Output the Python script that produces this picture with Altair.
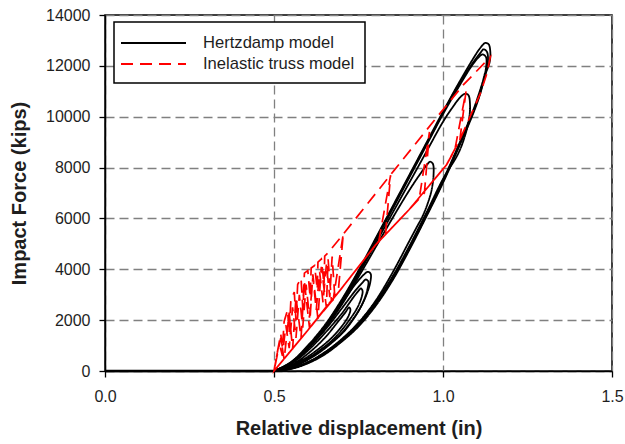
import altair as alt
import pandas as pd

SERIES = ["Hertzdamp model", "Inelastic truss model"]

# ---- Hertzdamp model (black) ----
hz_zero_x = [0.0, 0.5]
hz_zero_y = [0, 0]

hz_a1_x = [0.50, 0.55, 0.60, 0.65, 0.70, 0.75, 0.80, 0.85, 0.90, 0.95, 1.00, 1.05, 1.09, 1.11, 1.125, 1.135, 1.14,
           1.138, 1.125, 1.11, 1.09, 1.05, 1.00, 0.95, 0.90, 0.85, 0.80, 0.75, 0.70, 0.65, 0.60, 0.55, 0.50]
hz_a1_y = [0, 350, 1000, 1800, 2800, 3950, 5200, 6450, 7700, 8950, 10200, 11400, 12300, 12700, 12900, 12850, 12550,
           12150, 11650, 10900, 10150, 8900, 7400, 6050, 4750, 3550, 2550, 1750, 1150, 650, 300, 80, 0]

hz_a2_x = [0.50, 0.55, 0.60, 0.65, 0.70, 0.75, 0.80, 0.85, 0.90, 0.95, 1.00, 1.05, 1.09, 1.11, 1.12, 1.13, 1.133,
           1.125, 1.11, 1.09, 1.05, 1.00, 0.95, 0.90, 0.85, 0.80, 0.75, 0.70, 0.65, 0.60, 0.55, 0.50]
hz_a2_y = [0, 330, 950, 1750, 2750, 3900, 5150, 6400, 7650, 8900, 10150, 11350, 12150, 12500, 12650, 12550, 12200,
           11650, 10950, 10200, 8950, 7450, 6100, 4800, 3600, 2600, 1800, 1180, 680, 320, 90, 0]

hz_a3_x = [0.50, 0.55, 0.60, 0.65, 0.70, 0.75, 0.80, 0.85, 0.90, 0.95, 1.00, 1.05, 1.085, 1.105, 1.117, 1.127, 1.128,
           1.12, 1.105, 1.085, 1.05, 1.00, 0.95, 0.90, 0.85, 0.80, 0.75, 0.70, 0.65, 0.60, 0.55, 0.50]
hz_a3_y = [0, 320, 930, 1720, 2700, 3850, 5100, 6350, 7600, 8850, 10100, 11250, 12000, 12330, 12450, 12350, 12000,
           11500, 10850, 10100, 9000, 7500, 6150, 4850, 3650, 2650, 1850, 1200, 700, 330, 100, 0]

hz_b_x = [0.50, 0.55, 0.60, 0.65, 0.70, 0.75, 0.80, 0.85, 0.90, 0.95, 1.00, 1.03, 1.05, 1.065, 1.075, 1.08, 1.077,
          1.065, 1.045, 1.00, 0.95, 0.90, 0.85, 0.80, 0.75, 0.70, 0.65, 0.60, 0.55, 0.50]
hz_b_y = [0, 300, 900, 1700, 2650, 3800, 5000, 6200, 7400, 8600, 9800, 10400, 10750, 10900, 10850, 10450, 9900,
          9250, 8550, 7550, 6200, 4900, 3700, 2700, 1880, 1230, 720, 340, 100, 0]

hz_c_x = [0.50, 0.55, 0.60, 0.65, 0.70, 0.75, 0.80, 0.85, 0.90, 0.93, 0.952, 0.962, 0.970, 0.972, 0.966, 0.955, 0.94,
          0.92, 0.90, 0.85, 0.80, 0.75, 0.70, 0.65, 0.60, 0.55, 0.50]
hz_c_y = [0, 300, 880, 1650, 2600, 3700, 4850, 6000, 7100, 7700, 8100, 8230, 8150, 7700, 7100, 6600, 6100,
          5600, 5100, 3850, 2750, 1900, 1250, 740, 350, 110, 0]

hz_d1_x = [0.50, 0.55, 0.60, 0.65, 0.70, 0.74, 0.765, 0.778, 0.786, 0.785, 0.775, 0.76, 0.74, 0.71, 0.67, 0.62, 0.56, 0.50]
hz_d1_y = [0, 330, 950, 1700, 2650, 3400, 3780, 3900, 3820, 3500, 3050, 2600, 2150, 1600, 1100, 600, 180, 0]

hz_d2_x = [0.50, 0.55, 0.60, 0.65, 0.70, 0.74, 0.762, 0.772, 0.779, 0.777, 0.765, 0.745, 0.72, 0.69, 0.65, 0.60, 0.55, 0.50]
hz_d2_y = [0, 300, 880, 1600, 2450, 3150, 3480, 3600, 3520, 3250, 2750, 2250, 1800, 1350, 950, 500, 170, 0]

hz_d3_x = [0.50, 0.55, 0.60, 0.65, 0.70, 0.735, 0.75, 0.757, 0.762, 0.758, 0.745, 0.72, 0.69, 0.65, 0.60, 0.55, 0.50]
hz_d3_y = [0, 270, 800, 1480, 2250, 2900, 3150, 3250, 3150, 2850, 2450, 1950, 1450, 950, 480, 160, 0]

hz_d4_x = [0.50, 0.55, 0.60, 0.65, 0.69, 0.712, 0.722, 0.726, 0.72, 0.70, 0.67, 0.63, 0.58, 0.53, 0.50]
hz_d4_y = [0, 230, 680, 1300, 1950, 2320, 2500, 2420, 2150, 1750, 1300, 850, 400, 90, 0]

# ---- Inelastic truss model (red, one continuous dashed path) ----
red_x = [0.50, 0.51, 0.52, 0.525, 0.53, 0.54, 0.545, 0.55, 0.56, 0.565, 0.57, 0.58, 0.585, 0.59, 0.60, 0.607, 0.61,
         0.62, 0.628, 0.63, 0.64, 0.648, 0.65, 0.66,
         0.70, 0.733, 0.856, 0.98, 1.06, 1.14,
         1.13, 1.11, 1.08, 1.05, 1.01, 0.95, 0.90, 0.85, 0.80, 0.75, 0.70, 0.65, 0.60, 0.55, 0.50,
         0.55, 0.60, 0.65, 0.675, 0.705, 0.69, 0.65, 0.60, 0.55, 0.50,
         0.60, 0.70, 0.80, 0.81, 0.845, 0.83, 0.80, 0.70, 0.60, 0.50,
         0.60, 0.70, 0.80, 0.90, 0.93, 0.96, 0.945, 0.90, 0.80, 0.70, 0.60, 0.50,
         0.60, 0.70, 0.80, 0.90, 1.01, 1.035, 1.068, 1.05, 1.01, 0.90, 0.80, 0.70, 0.60, 0.50,
         0.515, 0.525, 0.535, 0.545, 0.555, 0.565, 0.575, 0.585, 0.595, 0.605, 0.615, 0.625, 0.635, 0.645, 0.655,
         0.665, 0.672, 0.68, 0.60, 0.50,
         0.52, 0.53, 0.545, 0.555, 0.565, 0.58, 0.59, 0.605, 0.615, 0.63, 0.64, 0.655, 0.66, 0.67, 0.60, 0.50]
red_y = [0, 750, 1450, 900, 1950, 2400, 1500, 2800, 3100, 2000, 3400, 3650, 2500, 3850, 3950, 2900, 4050,
         4150, 3200, 4280, 4400, 3400, 4520, 4650,
         5300, 5850, 7900, 9950, 11250, 12350,
         11700, 10900, 10000, 9100, 8100, 7150, 6350, 5650, 4950, 4100, 3250, 2450, 1600, 800, 0,
         800, 1600, 2450, 2800, 5400, 3100, 2450, 1600, 800, 0,
         1600, 3250, 4950, 5100, 7700, 5400, 4950, 3250, 1600, 0,
         1600, 3250, 4950, 6350, 6800, 9400, 7000, 6350, 4950, 3250, 1600, 0,
         1600, 3250, 4950, 6350, 8100, 8700, 11000, 9100, 8100, 6350, 4950, 3250, 1600, 0,
         1100, 600, 1800, 900, 2500, 1300, 3000, 1700, 3400, 2100, 3700, 2400, 3900, 2700, 4200,
         2900, 4500, 2900, 1600, 0,
         1300, 450, 2300, 850, 2900, 1300, 3500, 1700, 3800, 2050, 4100, 2500, 4400, 2750, 1600, 0]

x_ticks = [0.0, 0.5, 1.0, 1.5]
y_ticks = [0, 2000, 4000, 6000, 8000, 10000, 12000, 14000]

hz_loops = {
    "A1": (hz_a1_x, hz_a1_y), "A2": (hz_a2_x, hz_a2_y), "A3": (hz_a3_x, hz_a3_y),
    "B": (hz_b_x, hz_b_y), "C": (hz_c_x, hz_c_y),
    "D1": (hz_d1_x, hz_d1_y), "D2": (hz_d2_x, hz_d2_y), "D3": (hz_d3_x, hz_d3_y), "D4": (hz_d4_x, hz_d4_y),
}

rows = []
for name, (xs, ys) in hz_loops.items():
    for i, (x, y) in enumerate(zip(xs, ys)):
        rows.append({"x": x, "y": y, "series": SERIES[0], "loop": name, "order": i})
hz_df = pd.DataFrame(rows)

red_df = pd.DataFrame({"x": red_x, "y": red_y, "series": SERIES[1], "loop": "R", "order": list(range(len(red_x)))})
zero_df = pd.DataFrame({"x": hz_zero_x, "y": hz_zero_y})

FONT = "Liberation Sans"
TXT = "#1e1e1e"

xscale = alt.Scale(domain=[0, 1.5], nice=False, zero=False)
yscale = alt.Scale(domain=[0, 14000], nice=False)

xaxis = alt.Axis(values=x_ticks, format=".1f", title="Relative displacement (in)", grid=True,
                 gridDash=[9, 5], gridColor="#808080", gridWidth=1.3, tickSize=6, labelPadding=11,
                 labelFlush=False, titlePadding=14)
yaxis = alt.Axis(values=y_ticks, format="d", title="Impact Force (kips)", grid=True,
                 gridDash=[9, 5], gridColor="#808080", gridWidth=1.3, tickSize=6, labelPadding=9,
                 labelFlush=False, titlePadding=16)

leg = alt.Legend(orient="none", legendX=9, legendY=7, title=None, symbolType="M-1.4,0H5.1", symbolSize=400,
                 symbolStrokeWidth=1.8, labelFontSize=16.6, labelFont=FONT, labelColor=TXT,
                 labelOffset=57, fillColor="white", strokeColor="black", padding=10, rowPadding=1)

color = alt.Color("series:N", scale=alt.Scale(domain=SERIES, range=["black", "red"]), legend=leg)
dash = alt.StrokeDash("series:N", scale=alt.Scale(domain=SERIES, range=[[1, 0], [12, 7]]), legend=leg)

zero_line = alt.Chart(zero_df).mark_line(color="black", strokeWidth=2.6).encode(
    x=alt.X("x:Q", scale=xscale, axis=xaxis),
    y=alt.Y("y:Q", scale=yscale, axis=yaxis),
)

hz_lines = alt.Chart(hz_df).mark_line(strokeWidth=1.8, interpolate="catmull-rom").encode(
    x=alt.X("x:Q", scale=xscale, axis=xaxis),
    y=alt.Y("y:Q", scale=yscale, axis=yaxis),
    color=color, strokeDash=dash, detail="loop:N", order=alt.Order("order:Q"),
)

red_lines = alt.Chart(red_df).mark_line(strokeWidth=1.7).encode(
    x=alt.X("x:Q", scale=xscale, axis=xaxis),
    y=alt.Y("y:Q", scale=yscale, axis=yaxis),
    color=color, strokeDash=dash, detail="loop:N", order=alt.Order("order:Q"),
)

chart = alt.layer(zero_line, hz_lines, red_lines).properties(
    width=507, height=356,
    autosize=alt.AutoSizeParams(type="none"),
    padding={"left": 105, "top": 15, "right": 13, "bottom": 73},
).configure_view(stroke="black", strokeWidth=1.5).configure_axis(
    domainColor="black", domainWidth=1.5, tickColor="black", tickWidth=1.3,
    labelFont=FONT, labelFontSize=16, labelColor=TXT,
    titleFont=FONT, titleFontSize=20, titleFontWeight="bold", titleColor=TXT,
).configure_legend(strokeWidth=1.5)

chart.save("out.html", embed_options={"renderer": "svg", "actions": False})
